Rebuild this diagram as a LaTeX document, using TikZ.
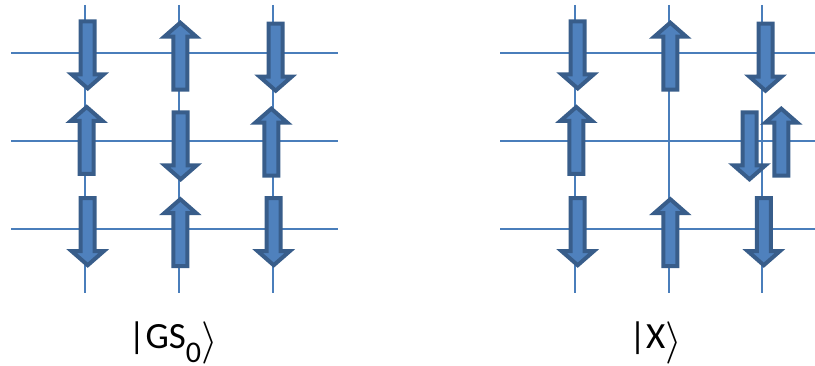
\documentclass[tikz,border=0pt]{standalone}
\usepackage{graphicx}
\usepackage{fontspec}
\setmainfont{Carlito}
\usetikzlibrary{positioning}
\definecolor{cLattice} {HTML}{4A7EBB}
\definecolor{cSpinFill}{HTML}{4F81BD}
\definecolor{cSpinEdge}{HTML}{385D8A}
\newcommand{\ketclose}{\raisebox{-0.12em}{\scalebox{1.7}{$\rangle$}}}

\tikzset{
  lattice/.style={draw=cLattice, line width=2pt},
  spinbody/.style={fill=cSpinFill, draw=cSpinEdge, line width=4pt, line join=miter},
  statelabel/.style={font=\fontsize{37}{40}\selectfont, inner sep=0pt, anchor=base},
  pics/spindown/.style={code={
      \path[spinbody] (-7,-33.5) -- (7,-33.5) -- (7,19.5) -- (16,19.5)
        -- (0,33.5) -- (-16,19.5) -- (-7,19.5) -- cycle;
  }},
  pics/spinup/.style={code={
      \path[spinbody] (-7,33.5) -- (7,33.5) -- (7,-19.5) -- (16,-19.5)
        -- (0,-33.5) -- (-16,-19.5) -- (-7,-19.5) -- cycle;
  }},
}

\begin{document}
\begin{tikzpicture}[x=1pt, y=-1pt]
  \useasboundingbox (0,0) rectangle (815,366);
  % Lattice of the ground state
  \foreach \ly in {53,141,229} \draw[lattice] (11,\ly) -- (338,\ly);
  \foreach \lx in {85,179,273} \draw[lattice] (\lx,5) -- (\lx,293);
  % Lattice of the excited state
  \foreach \ly in {53,141,229} \draw[lattice] (500,\ly) -- (815,\ly);
  \foreach \lx in {575,669,762} \draw[lattice] (\lx,5) -- (\lx,293);

  % Spins, ground state
  \pic at (87.7,54.9)  {spindown};
  \pic at (180.3,56.2) {spinup};
  \pic at (275.7,57.2) {spindown};
  \pic at (86.7,140.5) {spinup};
  \pic at (180.7,145.8) {spindown};
  \pic at (271.3,142.2) {spinup};
  \pic at (87.7,231.7) {spindown};
  \pic at (180.3,232.7) {spinup};
  \pic at (273.7,231.7) {spindown};

  % Spins, excited state (flipped pair moved off site)
  \pic at (577.7,54.9)  {spindown};
  \pic at (670.3,56.2)  {spinup};
  \pic at (765.5,57.2)  {spindown};
  \pic at (576.3,140.5) {spinup};
  \pic at (749.5,145.8) {spindown};
  \pic at (781.3,142.2) {spinup};
  \pic at (577.7,231.7) {spindown};
  \pic at (670.3,232.7) {spinup};
  \pic at (763.8,231.7) {spindown};

  % State labels
  \node[statelabel] (gs) at (173,349)
       {|GS\raisebox{-0.36em}{\fontsize{30}{32}\selectfont 0}\ketclose};
  \node[statelabel] (xstate) at (655.5,349) {|X\ketclose};
\end{tikzpicture}
\end{document}
